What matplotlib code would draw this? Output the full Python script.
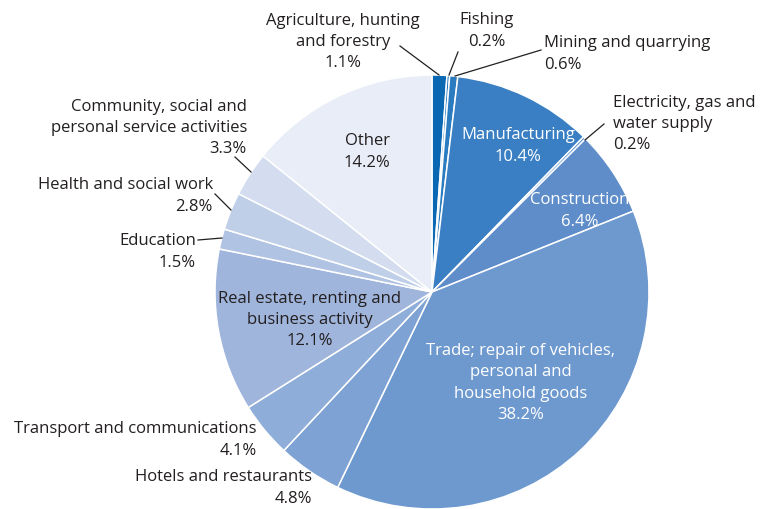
import matplotlib.pyplot as plt

plt.rcParams['font.family'] = ['Open Sans', 'DejaVu Sans']

# sectors, clockwise from 12 o'clock
sectors = ['Agriculture, hunting\nand forestry', 'Fishing', 'Mining and quarrying',
           'Manufacturing', 'Electricity, gas and\nwater supply', 'Construction',
           'Trade; repair of vehicles,\npersonal and\nhousehold goods',
           'Hotels and restaurants', 'Transport and communications',
           'Real estate, renting and\nbusiness activity', 'Education',
           'Health and social work', 'Community, social and\npersonal service activities',
           'Other']
shares = [1.1, 0.2, 0.6, 10.4, 0.2, 6.4, 38.2, 4.8, 4.1, 12.1, 1.5, 2.8, 3.3, 14.2]
colors = ['#0b68b2', '#1a74bc', '#2a7bc0', '#3a7fc3', '#4a86c7', '#5f8dca',
          '#6e99cf', '#7da2d3', '#8eadd8', '#a0b5dc', '#b1c3e3', '#c0cfe8',
          '#d3ddef', '#e8edf7']

W, H = 763, 509
dark = '#231f20'

fig = plt.figure(figsize=(W / 100, H / 100), dpi=100)
ax = fig.add_axes([0, 0, 1, 1])

cx, cy, r = 432, H - 292, 217
ax.pie(shares, colors=colors, startangle=90, counterclock=False, center=(cx, cy),
       radius=r, normalize=True, frame=True,
       wedgeprops=dict(edgecolor='white', linewidth=1.1))
ax.set_xlim(0, W)
ax.set_ylim(0, H)
ax.set_aspect('equal')
ax.axis('off')


def y(v):
    return H - v


fs = 12.0
ls = 1.45
dy = 2  # small nudge so text sits like the original
lab = lambda i: sectors[i] + '\n' + f'{shares[i]:.1f}%'

# labels inside the pie
inside = [(3, 518, 144, 'white'), (5, 580, 209, 'white'), (13, 367, 150, dark),
          (9, 310, 318, dark), (6, 521, 381, 'white')]
for i, xx, yy, c in inside:
    ax.text(xx, y(yy + dy), lab(i), ha='center', va='center', color=c, fontsize=fs,
            linespacing=ls)

# labels outside with leader lines
outside = [
    (0, 343, 40, 'center', (400, 46), (439, 75)),
    (1, 487, 29, 'center', (458, 52), (449, 75)),
    (2, 544, 52, 'left', (541, 50), (455, 76)),
    (4, 613, 122, 'left', (604, 124), (585, 140)),
    (12, 247, 126, 'right', (235, 157), (251, 172)),
    (11, 213, 194, 'right', (215, 194), (231, 210)),
    (10, 196, 250, 'right', (198, 240), (222, 238)),
    (8, 257, 438, 'right', None, None),
    (7, 312, 486, 'right', None, None),
]
for i, xx, yy, ha, p0, p1 in outside:
    ax.text(xx, y(yy + dy), lab(i), ha=ha, va='center', multialignment=ha, color=dark,
            fontsize=fs, linespacing=ls)
    if p0 is not None:
        ax.plot([p0[0], p1[0]], [y(p0[1]), y(p1[1])], color=dark, lw=0.9)

fig.savefig('out.png', dpi=100)
